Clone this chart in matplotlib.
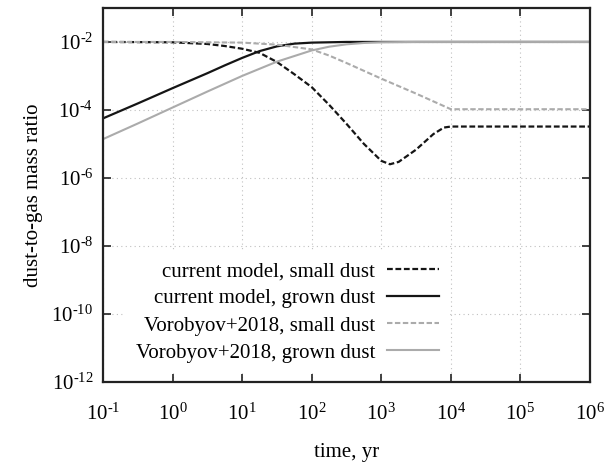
import matplotlib
matplotlib.use("Agg")
import matplotlib.pyplot as plt
from matplotlib.ticker import FixedLocator, FuncFormatter, NullLocator
import numpy as np

plt.rcParams["font.family"] = "Liberation Serif"
plt.rcParams["mathtext.fontset"] = "custom"
plt.rcParams["mathtext.rm"] = "Liberation Serif"
plt.rcParams["mathtext.it"] = "Liberation Serif:italic"

# log10(time / yr) -> log10(dust-to-gas mass ratio)
logt_cur_small = [-1.0, 0.0, 0.5, 0.75, 1.0, 1.25, 1.5, 1.75, 2.0, 2.25, 2.5, 2.75,
                  3.0, 3.125, 3.25, 3.5, 3.75, 3.9, 4.0, 6.0]
logd_cur_small = [-2.0, -2.01, -2.06, -2.12, -2.2, -2.32, -2.59, -2.95, -3.33, -3.85,
                  -4.41, -5.0, -5.5, -5.6, -5.53, -5.17, -4.71, -4.52, -4.49, -4.49]

logt_cur_grown = [-1.0, -0.5, 0.0, 0.5, 0.75, 1.0, 1.25, 1.5, 1.75, 2.0, 2.5, 6.0]
logd_cur_grown = [-4.25, -3.81, -3.36, -2.92, -2.69, -2.47, -2.27, -2.13, -2.05, -2.02,
                  -2.0, -2.0]

logt_vor_small = [-1.0, 0.0, 1.0, 1.5, 2.0, 2.25, 2.5, 2.75, 3.0, 3.25, 3.5, 3.75, 4.0, 6.0]
logd_vor_small = [-2.0, -2.0, -2.02, -2.08, -2.22, -2.4, -2.62, -2.85, -3.08, -3.3,
                  -3.52, -3.75, -3.98, -3.98]

logt_vor_grown = [-1.0, -0.5, 0.0, 0.5, 1.0, 1.5, 2.0, 2.25, 2.5, 2.75, 3.0, 3.5, 6.0]
logd_vor_grown = [-4.86, -4.4, -3.93, -3.46, -3.0, -2.58, -2.25, -2.14, -2.07, -2.03,
                  -2.01, -2.0, -2.0]

labels = ["current model, small dust", "current model, grown dust",
          "Vorobyov+2018, small dust", "Vorobyov+2018, grown dust"]

fig = plt.figure(figsize=(6.11, 4.66), dpi=100)
ax = fig.add_axes([0.1686, 0.1809, 0.797, 0.802])

dark = "#151515"
grey = "#ababab"
ax.plot(10.0 ** np.array(logt_cur_small), 10.0 ** np.array(logd_cur_small),
        color=dark, lw=1.6, dashes=(2.6, 1.2), label=labels[0])
ax.plot(10.0 ** np.array(logt_cur_grown), 10.0 ** np.array(logd_cur_grown),
        color=dark, lw=1.6, label=labels[1])
ax.plot(10.0 ** np.array(logt_vor_small), 10.0 ** np.array(logd_vor_small),
        color=grey, lw=1.5, dashes=(2.6, 1.2), label=labels[2])
ax.plot(10.0 ** np.array(logt_vor_grown), 10.0 ** np.array(logd_vor_grown),
        color=grey, lw=1.5, label=labels[3])

ax.set_xscale("log")
ax.set_yscale("log")
ax.set_xlim(1e-1, 1e6)
ax.set_ylim(1e-12, 1e-1)

ax.xaxis.set_major_locator(FixedLocator([10.0 ** k for k in range(-1, 7)]))
ax.yaxis.set_major_locator(FixedLocator([10.0 ** k for k in range(-12, -1, 2)]))
ax.xaxis.set_minor_locator(NullLocator())
ax.yaxis.set_minor_locator(NullLocator())


def pow10(v, pos):
    # gnuplot-style exponent with a short hyphen instead of a minus sign
    e = int(round(np.log10(v)))
    s = str(e).replace("-", "\u2010")
    return r"$10^{%s}$" % s


ax.xaxis.set_major_formatter(FuncFormatter(pow10))
ax.yaxis.set_major_formatter(FuncFormatter(pow10))
ax.tick_params(which="both", direction="in", top=True, right=True, length=6,
               width=1.2, labelsize=15, color="#222222")
ax.tick_params(axis="x", pad=16)
ax.tick_params(axis="y", pad=7)

ax.grid(True, which="major", linestyle=(0, (1, 3)), color="#c0c0c0", linewidth=0.8)
for sp in ax.spines.values():
    sp.set_linewidth(1.6)
    sp.set_color("#222222")

ax.set_xlabel("time, yr", fontsize=15, labelpad=13)
ax.set_ylabel("dust-to-gas mass ratio", fontsize=15, labelpad=6)

leg = ax.legend(loc="center right", bbox_to_anchor=(0.7105, 0.186), markerfirst=False,
                fontsize=15, handlelength=2.5, handletextpad=0.55, labelspacing=0.36,
                borderaxespad=0, borderpad=0.5, frameon=True, fancybox=False,
                facecolor="white", edgecolor="none", framealpha=1)

fig.savefig("out.png", dpi=100)
